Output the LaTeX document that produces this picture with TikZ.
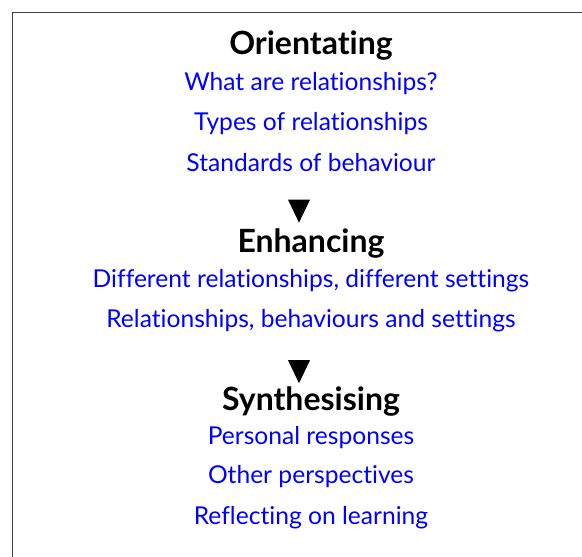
\documentclass[tikz,border=0pt]{standalone}
\usepackage{fontspec}
\setmainfont[Ligatures=NoCommon]{Lato}
\usepackage{tikz}
\usetikzlibrary{shapes,positioning}
\usepackage{xcolor}

\begin{document}
\begin{tikzpicture}[x=1pt,y=-1pt,
    stage/.style={font=\fontsize{32}{33}\selectfont\bfseries, text=black},
    item/.style={font=\fontsize{24.6}{26}\selectfont, text=blue},
    marker/.style={isosceles triangle, shape border rotate=270, fill=black,
        minimum width=22pt, minimum height=23pt, inner sep=0pt, anchor=north,
        isosceles triangle stretches}]
    \useasboundingbox (0,0) rectangle (582,557);

    % Frame
    \draw[black!75, line width=1.3pt] (12.5,560) -- (12.5,12.5) -- (585,12.5);

    % Orientating
    \node[stage] (orient) at (311,46) {Orientating};
    \node[item] (what) at (311,84) {What are relationships?};
    \node[item] (types) at (311,124) {Types of relationships};
    \node[item] (stand) at (311,163) {Standards of behaviour};

    % Marker
    \node[marker] (down1) at (299,199.5) {};

    % Enhancing
    \node[stage] (enh) at (311,243) {Enhancing};
    \node[item] (diff) at (311,281) {Different relationships, different settings};
    \node[item] (rel) at (311,321) {Relationships, behaviours and settings};

    % Marker
    \node[marker] (down2) at (299,360) {};

    % Synthesising
    \node[stage] (synth) at (311,401) {Synthesising};
    \node[item] (pers) at (311,438) {Personal responses};
    \node[item] (other) at (311,477) {Other perspectives};
    \node[item] (refl) at (311,518) {Reflecting on learning};
\end{tikzpicture}
\end{document}
